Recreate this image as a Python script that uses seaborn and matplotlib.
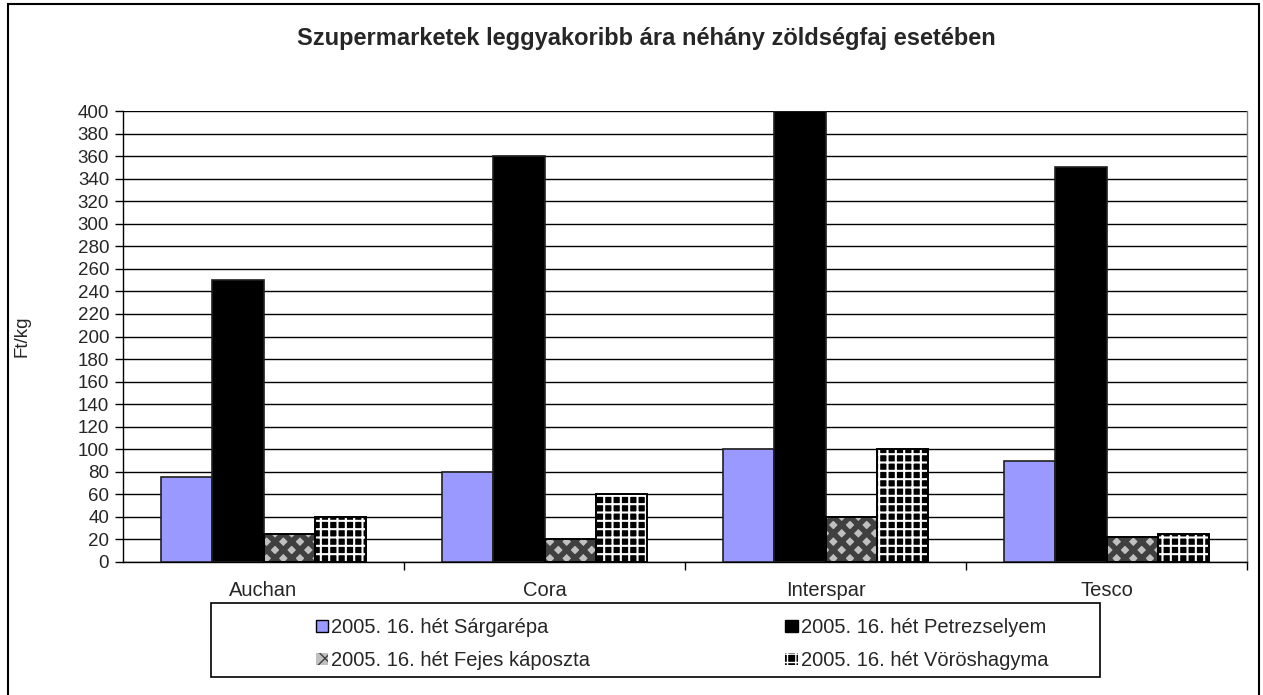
import matplotlib
matplotlib.use("Agg")
import matplotlib.pyplot as plt
import seaborn as sns
import pandas as pd
import numpy as np
from matplotlib.patches import Rectangle, Patch

stores = ["Auchan", "Cora", "Interspar", "Tesco"]
series = ["2005. 16. hét Sárgarépa", "2005. 16. hét Petrezselyem",
          "2005. 16. hét Fejes káposzta", "2005. 16. hét Vöröshagyma"]
sargarepa = [75, 80, 100, 90]
petrezselyem = [250, 360, 400, 350]
kaposzta = [25, 20, 40, 22]
voroshagyma = [40, 60, 100, 25]
yticks = list(range(0, 401, 20))

rows = []
for s, vals in zip(series, [sargarepa, petrezselyem, kaposzta, voroshagyma]):
    for st, v in zip(stores, vals):
        rows.append({"store": st, "series": s, "value": v})
df = pd.DataFrame(rows)

sns.set_theme(style="white")
plt.rcParams['font.family'] = ['Liberation Sans', 'DejaVu Sans']

W, H = 1263, 695
fig = plt.figure(figsize=(W / 100, H / 100), dpi=100)
ax = fig.add_axes([123 / W, 1 - 562 / H, (1247 - 123) / W, (562 - 111) / H])

face = ["#9999ff", "#000000", "#c0c0c0", "#000000"]
hatch = [None, None, "xx", "++"]
hatchcol = [None, None, "#404040", "#ffffff"]
hatchlw = [None, None, 4.0, 1.5]

sns.barplot(data=df, x="store", y="value", hue="series", order=stores,
            hue_order=series, palette=face, width=0.73, saturation=1,
            ax=ax, legend=False, edgecolor="#202020", linewidth=1.2, zorder=3)

for i, cont in enumerate(ax.containers):
    for p in cont.patches:
        if hatch[i]:
            if hasattr(p, "set_hatch_linewidth"):
                p.set_hatch_linewidth(hatchlw[i])
            p.set_hatch(hatch[i])
            p.set_edgecolor(hatchcol[i])
            p.set_linewidth(0)
            r = Rectangle(p.get_xy(), p.get_width(), p.get_height(), fill=False,
                          edgecolor="black", linewidth=1.4, zorder=4)
            ax.add_patch(r)

ax.set_ylim(0, 400)
ax.set_xlim(-0.5, 3.5)
ax.set_yticks(yticks)
ax.set_yticklabels([str(t) for t in yticks], fontsize=13.5)
ax.yaxis.grid(True, color="black", linewidth=1.0, zorder=0)
ax.set_axisbelow(True)
ax.tick_params(axis="y", direction="out", length=6, width=1, color="black",
               left=True, pad=4)
ax.set_xticks(range(len(stores)))
ax.set_xticklabels(stores, fontsize=14.5)
ax.tick_params(axis="x", which="major", length=0, pad=14)
ax.set_xticks([0.5, 1.5, 2.5, 3.5], minor=True)
ax.tick_params(axis="x", which="minor", direction="out", length=6, width=1,
               color="black", bottom=True)
ax.set_xlabel("")
ax.set_ylabel("")
for s in ["left", "bottom", "right"]:
    ax.spines[s].set_visible(True)
    ax.spines[s].set_color("black")
    ax.spines[s].set_linewidth(1.0)
ax.spines["right"].set_color("#808080")
ax.spines["top"].set_visible(False)

fig.text(22 / W, 1 - 336 / H, "Ft/kg", rotation=90, fontsize=13.5,
         ha="center", va="center")
fig.text(646 / W, 1 - 38 / H,
         "Szupermarketek leggyakoribb ára néhány zöldségfaj esetében",
         fontsize=17, fontweight="bold", ha="center", va="center")

# outer chart border
fig.patches.append(Rectangle((8 / W, -0.01), (1259 - 8) / W, 1 - 4 / H + 0.01,
                             transform=fig.transFigure, fill=False,
                             edgecolor="black", linewidth=1.5))
# legend box
fig.patches.append(Rectangle((211 / W, 1 - 677 / H), (1100 - 211) / W, (677 - 603) / H,
                             transform=fig.transFigure, fill=False,
                             edgecolor="black", linewidth=1.2))

handles = []
for i in range(4):
    if hatch[i]:
        h = Patch(facecolor=face[i], edgecolor=hatchcol[i], hatch=hatch[i], linewidth=0)
        if hasattr(h, "set_hatch_linewidth"):
            h.set_hatch_linewidth(hatchlw[i])
    else:
        h = Patch(facecolor=face[i], edgecolor="black", linewidth=1)
    handles.append(h)
order = [0, 2, 1, 3]
leg = fig.legend([handles[i] for i in order], [series[i] for i in order],
                 ncol=2, loc="upper left", bbox_to_anchor=(316 / W, 1 - 618 / H),
                 frameon=False, fontsize=14.5, handlelength=0.6, handleheight=0.6,
                 handletextpad=0.15, columnspacing=9.7, labelspacing=0.7,
                 borderpad=0, borderaxespad=0)

fig.savefig("out.png", dpi=100)
